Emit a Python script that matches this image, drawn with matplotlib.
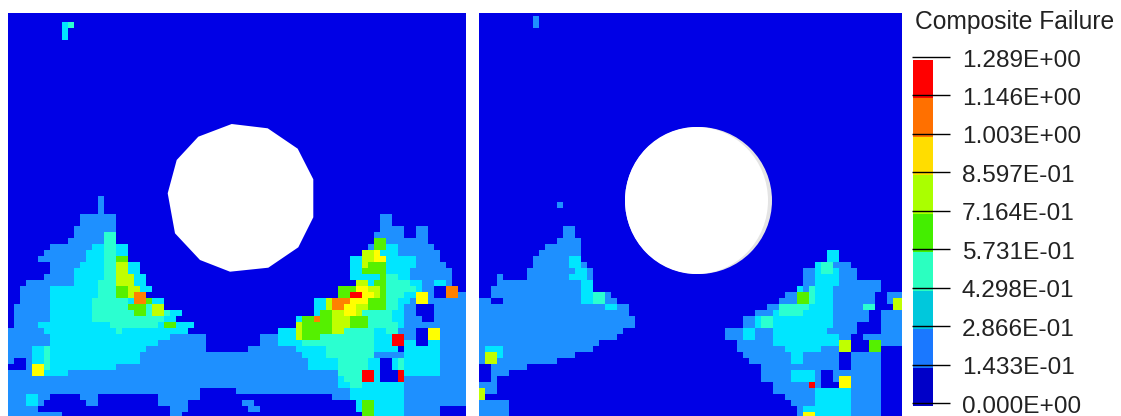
import numpy as np
import matplotlib
matplotlib.use('Agg')
import matplotlib.pyplot as plt
from matplotlib.colors import ListedColormap, BoundaryNorm
from matplotlib.patches import Polygon, Ellipse, Circle

# fringe levels of the composite failure index
levels = [0.0, 0.1433, 0.2866, 0.4298, 0.5731, 0.7164, 0.8597, 1.003, 1.146, 1.289]
level_labels = ['0.000E+00', '1.433E-01', '2.866E-01', '4.298E-01', '5.731E-01',
                '7.164E-01', '8.597E-01', '1.003E+00', '1.146E+00', '1.289E+00']
map_colors = ['#0000E6', '#1E90FF', '#00E6FF', '#2BFFD0', '#55F000',
              '#C0FF00', '#FFFF00', '#FF8000', '#FF0000']
bar_colors = ['#0000C8', '#1A78FF', '#00C8DC', '#2BFFC0', '#44EE00',
              '#AAFF00', '#FFDD00', '#FF7000', '#FF0000']

# element fringe per row of the lower part of each plate, "first-last:level"
left_rows = [
    "",
    "15-15:1",
    "15-15:1",
    "15-15:1",
    "12-17:1 62-63:1",
    "12-17:1 62-63:1",
    "11-17:1 62-65:1 68-69:1",
    "11-15:1 16-17:3 61-65:1 68-69:1",
    "10-15:1 16-17:3 61-69:1 61-62:4",
    "7-13:1 14-15:2 16-17:3 18-19:2 60-70:1 61-62:4 63-64:2",
    "6-12:1 13-15:2 16-17:3 18-19:2 59-60:5 61-61:6 62-64:2 65-71:1",
    "5-12:1 13-15:2 16-17:3 18-19:4 57-58:2 59-60:5 61-62:6 63-67:2 68-71:1",
    "7-11:1 12-15:2 16-17:3 18-19:5 20-21:2 57-58:2 59-60:5 60-63:4 63-67:2 68-72:1",
    "7-10:1 11-15:2 16-17:3 18-19:5 20-21:2 57-58:2 59-62:4 63-66:2 67-73:1",
    "6-10:1 11-15:2 16-18:3 18-20:5 21-22:2 57-59:2 60-61:2 62-62:4 63-64:3 65-66:2 67-73:1",
    "3-10:1 11-15:2 15-17:3 18-20:5 21-22:2 58-59:5 60-60:2 61-62:4 63-66:3 67-68:2 69-70:1 71-72:2 73-73:1",
    "2-6:1 7-14:2 15-17:3 18-19:4 20-21:5 22-23:2 55-56:4 57-57:4 58-59:6 60-61:5 62-62:4 63-67:3 68-68:2 69-70:1 71-72:0 73-74:7",
    "2-6:1 7-14:2 15-18:3 18-19:4 20-20:5 21-22:7 55-56:4 57-58:8 59-60:6 61-61:5 62-62:4 63-65:3 66-67:2 68-69:6 70-70:1 71-72:0 73-74:7 75-76:1",
    "2-6:1 7-13:2 14-19:3 20-20:2 21-22:7 23-23:4 24-25:2 51-52:2 53-53:5 54-56:7 57-59:6 60-61:5 60-62:4 63-64:3 65-66:2 67-67:1 68-69:6 70-76:1",
    "1-6:1 7-13:2 14-18:3 19-19:3 20-22:4 23-23:3 24-25:5 51-52:2 53-53:5 54-56:7 56-58:6 58-59:5 60-62:4 63-64:3 65-65:2 66-67:1 68-70:0 71-76:1",
    "1-6:1 7-13:2 14-20:3 21-22:4 23-23:3 24-25:5 26-26:3 27-28:2 51-52:2 52-53:4 54-56:5 56-57:6 58-58:5 59-63:3 64-65:2 66-67:1 68-70:0 71-76:1",
    "1-6:1 7-14:2 14-25:3 26-27:2 48-49:2 49-50:4 51-52:7 52-53:4 54-56:5 57-59:4 60-63:3 64-65:2 66-68:1 69-70:0 71-76:1",
    "1-5:1 5-16:2 17-24:3 25-25:2 26-27:4 28-30:2 48-48:2 48-49:5 49-53:4 54-56:5 57-59:4 60-64:3 65-65:2 66-76:1",
    "0-5:1 6-17:2 18-18:3 19-29:2 45-47:2 48-48:5 49-53:4 54-55:5 56-60:3 61-62:2 63-64:3 65-67:1 68-69:0 70-71:6 72-76:1",
    "0-6:1 7-26:2 27-32:1 42-44:1 45-47:2 48-48:5 49-51:4 52-60:3 61-63:2 64-65:8 66-67:1 68-69:0 70-71:6 72-76:1",
    "0-6:1 7-24:2 25-32:1 42-44:1 45-48:2 49-60:3 61-63:2 64-65:8 66-71:2 68-69:0 72-76:1",
    "0-3:1 4-5:2 6-6:3 7-22:2 23-32:1 40-47:1 48-52:2 53-60:3 61-64:2 66-71:2 72-76:1",
    "0-3:1 4-5:2 6-6:3 7-21:2 22-47:1 49-52:2 48-48:1 53-60:3 61-65:1 66-71:2 72-76:1",
    "0-0:1 3-3:1 4-5:2 6-6:3 7-21:2 22-49:1 50-54:2 55-59:3 60-61:2 62-63:0 64-64:2 65-65:3 66-71:2 72-76:1",
    "3-3:1 4-5:6 6-6:3 7-17:2 18-49:1 50-54:2 55-59:3 60-61:2 62-63:0 64-64:2 65-65:3 66-71:2 72-76:1",
    "0-3:1 4-5:6 6-9:2 10-54:1 55-58:3 59-60:8 61-61:2 62-64:0 65-65:8 66-71:2 72-76:1",
    "0-54:1 55-56:2 56-58:3 59-60:8 61-61:2 62-64:0 65-65:8 66-76:1",
    "0-54:1 55-56:2 57-58:3 59-65:2 66-76:1",
    "0-31:1 38-56:1 57-65:2 66-76:1",
    "0-2:1 3-4:2 5-6:1 12-14:1 25-31:1 54-56:1 57-65:2 66-76:1",
    "0-2:1 3-4:2 5-5:1 13-14:1 25-29:1 39-40:1 58-58:2 59-60:4 61-65:2 66-76:1",
    "0-4:1 27-29:1 40-41:1 58-58:2 59-60:4 61-65:2 66-71:1",
    "0-8:1 27-28:1 59-60:4 61-65:2 66-71:1",
]
right_rows = [
    "",
    "",
    "13-13:1",
    "",
    "",
    "",
    "14-15:1",
    "14-15:1",
    "13-16:1",
    "11-16:1",
    "10-16:1 58-59:2",
    "9-14:1 15-16:2 58-59:2",
    "9-14:1 15-16:2 17-17:1 56-57:2 57-58:3 59-61:1",
    "8-15:1 16-17:2 18-18:1 54-55:1 56-59:2 57-58:3 60-62:1",
    "3-3:1 8-14:1 15-17:2 18-18:1 54-55:1 56-59:2 60-62:1",
    "3-16:1 17-18:2 54-55:1 56-59:2 60-66:1",
    "2-16:1 17-18:2 53-53:2 54-54:1 55-55:3 56-58:2 59-66:1",
    "2-18:1 19-20:3 17-18:2 21-21:1 51-52:1 53-53:2 53-54:4 55-55:3 56-58:2 59-65:1 66-67:0 68-70:1",
    "0-1:1 4-16:1 17-18:2 19-20:3 21-22:1 50-52:1 53-54:4 55-55:3 56-58:2 59-65:1 66-67:0 68-68:1 69-70:5",
    "0-20:1 21-22:2 23-24:1 48-49:1 50-54:3 55-58:2 59-63:1 64-65:3 66-68:0 69-70:5",
    "0-24:1 46-48:1 49-49:2 50-53:3 54-58:2 59-64:1 65-66:0 67-70:1",
    "0-25:1 44-45:1 46-47:2 47-48:3 49-58:2 59-64:1 65-66:0 67-70:1",
    "0-25:1 44-45:1 46-46:2 47-48:3 49-58:2 59-62:1 63-66:0 67-70:1",
    "0-23:1 41-43:1 44-45:2 46-48:1 49-57:2 58-62:1 63-66:0 67-70:1",
    "0-22:1 41-43:1 44-45:2 46-48:1 49-57:2 58-59:2 60-61:1 62-63:0 64-70:1",
    "0-19:1 43-48:1 49-57:2 58-59:2 60-61:5 62-64:0 65-66:4 67-70:1",
    "0-18:1 1-3:2 43-50:1 51-56:2 57-59:1 60-61:5 62-64:0 65-66:4",
    "0-15:1 1-2:5 3-3:2 44-51:1 52-53:2 54-59:1 60-61:0 62-66:1",
    "0-12:1 1-2:5 45-51:1 52-53:2 54-59:1 60-61:0 62-66:1",
    "2-7:1 47-59:1 60-61:0 62-66:1",
    "2-4:1 47-51:1 52-55:2 56-56:1 57-58:0 59-66:1",
    "2-2:1 47-51:1 52-55:2 56-56:1 57-58:0 59-59:1 60-61:6 62-66:1",
    "0-2:1 49-54:1 55-55:8 56-56:1 57-59:0 60-61:6 62-66:1",
    "0-0:5 1-2:1 49-55:1 56-61:2 62-66:1",
    "0-0:5 51-55:1 56-61:2 62-66:1",
    "0-4:1 52-55:1 56-61:2 62-66:1",
    "0-4:1 53-54:1 54-61:2 62-66:1",
    "0-4:1 53-53:1 54-55:6 56-61:2 62-66:1",
]
# isolated elements near the top edge: column, row, level
left_spots = [(9, 2, 2), (10, 2, 3), (9, 3, 2), (9, 4, 2)]
right_spots = [(9, 1, 1), (9, 2, 1)]

# hole outline of the coarse mesh plate
hole_x = [231.7, 267.7, 297.7, 313.3, 313.3, 298.3, 268.3, 230, 200, 175, 167.7, 176.7, 198.3]
hole_y = [124, 128.3, 148.7, 179.3, 217.3, 247.3, 267.7, 271.7, 260, 233.3, 193.3, 160, 136.7]


def build_grid(rows, spots, ncols):
    values = (np.array(levels[:-1]) + np.array(levels[1:])) / 2
    grid = np.zeros((30 + len(rows), ncols), dtype=int)
    for i, row in enumerate(rows):
        for run in row.split():
            span, lev = run.split(':')
            a, b = span.split('-')
            grid[30 + i, int(a):int(b) + 1] = int(lev)
    for col, row, lev in spots:
        grid[row, col] = lev
    return values[grid]


def draw_plate(ax, rows, spots, x0, x1):
    grid = build_grid(rows, spots, int(np.ceil((x1 - x0) / 6)))
    x = np.minimum(x0 + 6 * np.arange(grid.shape[1] + 1), x1)
    y = np.clip(10 + 6 * np.arange(grid.shape[0] + 1), 13, 416)
    ax.pcolormesh(x, y, grid, cmap=cmap, norm=norm, antialiased=False, linewidth=0)


cmap = ListedColormap(map_colors)
norm = BoundaryNorm(levels, cmap.N)

fig = plt.figure(figsize=(11.21, 4.16), dpi=100)
ax = fig.add_axes([0, 0, 1, 1])
ax.set_xlim(0, 1121)
ax.set_ylim(416, 0)
ax.axis('off')

draw_plate(ax, left_rows, left_spots, 8, 466)
draw_plate(ax, right_rows, right_spots, 479, 902)

ax.add_patch(Polygon(np.column_stack((hole_x, hole_y)), closed=True, fc='white', ec='none', zorder=3))
ax.add_patch(Circle((698.5, 200.5), 73.5, fc='#E4E4E4', ec='none', zorder=3))
ax.add_patch(Ellipse((696.5, 200.5), 143, 147, fc='white', ec='none', zorder=4))

# legend, y axis runs in failure index, the bar sits 3 px under its ticks
px_per_unit = (403 - 57) / levels[-1]
lax = fig.add_axes([0, 0, 1, 1], facecolor='none')
lax.set_xlim(0, 1121)
lax.set_ylim(-13 / px_per_unit, 403 / px_per_unit)
lax.axis('off')
shift = 3 / px_per_unit
lax.bar(923, np.diff(levels), width=20, bottom=np.array(levels[:-1]) - shift,
        color=bar_colors, linewidth=0)
lax.hlines(levels, 912, 950, color='black', linewidth=1.0)
for v, label in zip(levels, level_labels):
    lax.text(962, v - 3.6 / px_per_unit, label, va='center', ha='left',
             family='Liberation Sans', fontsize=17.6, color='#222222')
ax.text(915, 21.5, 'Composite Failure', va='center', ha='left',
        family='Liberation Sans', fontsize=17.7, color='#222222', zorder=5)

fig.savefig('out.png', dpi=100)
